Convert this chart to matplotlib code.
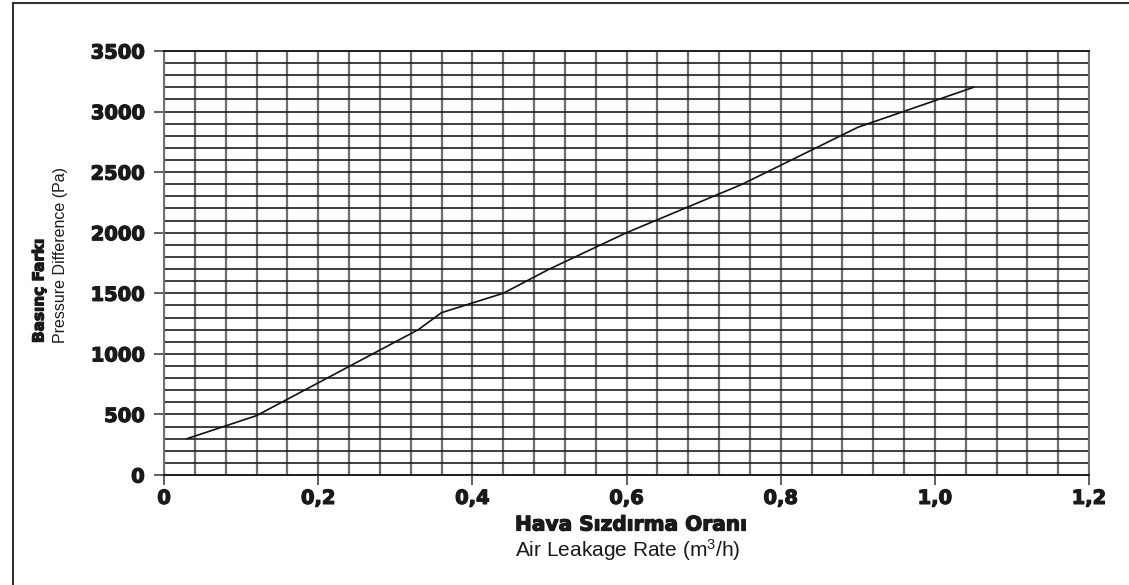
#!/usr/bin/env python3
"""Air leakage rate vs. pressure difference chart (out.png)."""

import matplotlib

matplotlib.use("Agg")
import matplotlib.patheffects as pe
import matplotlib.pyplot as plt
from matplotlib.lines import Line2D
from matplotlib.ticker import FixedLocator, MultipleLocator

# ---------------------------------------------------------------------------
# Data
# ---------------------------------------------------------------------------

leakage_rate = [0.03, 0.12, 0.33, 0.36, 0.44, 0.50, 0.60, 0.75, 0.90, 1.05]
pressure_diff = [300, 490, 1200, 1340, 1500, 1700, 2000, 2400, 2870, 3200]

x_ticks = [0.0, 0.2, 0.4, 0.6, 0.8, 1.0, 1.2]
x_tick_labels = ["0", "0,2", "0,4", "0,6", "0,8", "1,0", "1,2"]
y_ticks = [0, 500, 1000, 1500, 2000, 2500, 3000, 3500]

HEAVY = "DejaVu Sans"
REGULAR = "Liberation Sans"
TEXT = "#1a1a1a"
# thicken the bold face a little, the source uses a black-weight font
THICK = [pe.withStroke(linewidth=0.9, foreground=TEXT)]

plt.rcParams["mathtext.fontset"] = "custom"
plt.rcParams["mathtext.rm"] = REGULAR
plt.rcParams["mathtext.default"] = "rm"

VGRID = "#6e6e6e"
HGRID = "#1e1e1e"

fig = plt.figure(figsize=(11.29, 5.85), dpi=100)
ax = fig.add_axes([164 / 1129, 110 / 585, 925 / 1129, 424 / 585])

ax.plot(leakage_rate, pressure_diff, color="#111111", linewidth=1.2, zorder=5)

ax.set_xlim(0, 1.2)
ax.set_ylim(0, 3500)

ax.xaxis.set_major_locator(FixedLocator(x_ticks))
ax.xaxis.set_minor_locator(MultipleLocator(0.04))
ax.yaxis.set_major_locator(FixedLocator(y_ticks))
ax.yaxis.set_minor_locator(MultipleLocator(100))
ax.set_xticklabels(x_tick_labels)

ax.grid(True, which="both", axis="x", color=VGRID, linewidth=1.6, zorder=1)
ax.grid(True, which="both", axis="y", color=HGRID, linewidth=1.2, zorder=2)
ax.set_axisbelow(True)

ax.tick_params(axis="both", which="major", direction="out", length=7,
               width=1.2, color="#444444")
ax.tick_params(axis="x", which="major", pad=3)
ax.tick_params(axis="y", which="major", pad=7)
ax.tick_params(axis="both", which="minor", length=0)
for lbl in ax.get_xticklabels() + ax.get_yticklabels():
    lbl.set_fontfamily(HEAVY)
    lbl.set_fontweight("bold")
    lbl.set_fontsize(14)
    lbl.set_color(TEXT)
    lbl.set_path_effects(THICK)

ax.spines["left"].set_color(VGRID)
ax.spines["right"].set_color(VGRID)
ax.spines["top"].set_color(HGRID)
ax.spines["bottom"].set_color(HGRID)
for s in ax.spines.values():
    s.set_linewidth(1.4)

# Axis titles (two lines each, Turkish bold over English regular)
fig.text(515 / 1129, 1 - 525 / 585, "Hava Sızdırma Oranı", family=HEAVY,
         fontweight="bold", fontsize=14.5, ha="left", va="center", color=TEXT,
         path_effects=THICK)
fig.text(515 / 1129, 1 - 550 / 585, "Air Leakage Rate (m$^3$/h)", family=REGULAR,
         fontsize=15, ha="left", va="center", color=TEXT)

fig.text(39 / 1129, 1 - 343 / 585, "Basınç Farkı", family=HEAVY,
         fontweight="bold", fontsize=11, rotation=90, ha="center", va="bottom",
         color=TEXT, path_effects=THICK)
fig.text(60 / 1129, 1 - 343 / 585, "Pressure Difference (Pa)", family=REGULAR,
         fontsize=11.5, rotation=90, ha="center", va="bottom", color=TEXT)

# Outer frame (left and top edges only, as cropped in the source)
fig.add_artist(Line2D([12.5 / 1129, 12.5 / 1129], [0, 1 - 2.7 / 585],
                      transform=fig.transFigure, color="#333333", linewidth=1.5))
fig.add_artist(Line2D([12.5 / 1129, 1], [1 - 2.7 / 585, 1 - 2.7 / 585],
                      transform=fig.transFigure, color="#333333", linewidth=1.5))

fig.savefig("out.png", dpi=100)
plt.close(fig)
